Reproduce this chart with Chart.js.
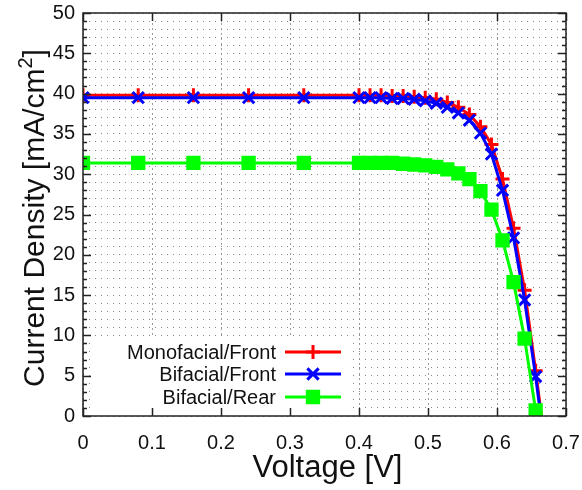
<!DOCTYPE html>
<html>
<head>
<meta charset="utf-8">
<script src="https://cdn.jsdelivr.net/npm/chart.js@4/dist/chart.umd.min.js"></script>
<style>
    html, body { margin: 0; padding: 0; background: #fff; }
</style>
</head>
<body>
<canvas id="chart-iv" width="582" height="490"></canvas>
<script>
// Voltage points [V] shared by all three curves
const voltage = [0, 0.08, 0.16, 0.24, 0.32, 0.40, 0.416, 0.432, 0.448, 0.464, 0.48, 0.496,
    0.512, 0.528, 0.544, 0.56, 0.576, 0.592, 0.608, 0.624, 0.64, 0.656, 0.672];

// Current density [mA/cm2]
const monofacialFront = [39.8, 39.8, 39.8, 39.8, 39.8, 39.8, 39.8, 39.8, 39.7, 39.7, 39.6, 39.5,
    39.3, 38.9, 38.3, 37.4, 35.9, 33.7, 29.4, 23.3, 15.6, 5.6, -5.0];
const bifacialFront = [39.5, 39.5, 39.5, 39.5, 39.5, 39.5, 39.5, 39.5, 39.4, 39.4, 39.3, 39.1,
    38.8, 38.3, 37.6, 36.7, 35.1, 32.5, 28.0, 22.1, 14.4, 4.9, -5.5];
const bifacialRear = [31.4, 31.4, 31.4, 31.4, 31.4, 31.4, 31.4, 31.4, 31.4, 31.3, 31.2, 31.1,
    30.9, 30.6, 30.1, 29.4, 27.9, 25.6, 21.8, 16.6, 9.6, 0.7];

const xTicks = [0, 0.1, 0.2, 0.3, 0.4, 0.5, 0.6, 0.7];
const yTicks = [0, 5, 10, 15, 20, 25, 30, 35, 40, 45, 50];

function toPoints(values) {
    return values.map((v, i) => ({ x: voltage[i], y: v }));
}

const seriesStyle = [
    { label: 'Monofacial/Front', color: '#ff0000', marker: 'cross', radius: 7 },
    { label: 'Bifacial/Front', color: '#0000ff', marker: 'crossRot', radius: 8 },
    { label: 'Bifacial/Rear', color: '#00ff00', marker: 'rect', radius: 8 },
];

const FONT = '"Liberation Sans", Arial, sans-serif';

// frame, inward ticks, legend and axis titles drawn by hand
const framePlugin = {
    id: 'frame',
    beforeDatasetsDraw(chart) {
        const ctx = chart.ctx;
        const area = chart.chartArea;
        ctx.save();
        ctx.fillStyle = '#fff';
        ctx.fillRect(area.left + 9, 337, 350 - area.left - 9, area.bottom - 337 - 1);
        ctx.restore();
    },
    afterDraw(chart) {
        const ctx = chart.ctx;
        const area = chart.chartArea;
        const xs = chart.scales.x;
        const ys = chart.scales.y;

        ctx.save();
        ctx.strokeStyle = '#222';
        ctx.lineWidth = 1.5;
        ctx.strokeRect(area.left, area.top, area.right - area.left, area.bottom - area.top);

        ctx.beginPath();
        xTicks.forEach(t => {
            const px = Math.round(xs.getPixelForValue(t)) + 0.5;
            ctx.moveTo(px, area.bottom);
            ctx.lineTo(px, area.bottom - 8);
            ctx.moveTo(px, area.top);
            ctx.lineTo(px, area.top + 8);
        });
        for (let v = 0; v <= 50; v++) {
            const py = Math.round(ys.getPixelForValue(v)) + 0.5;
            const len = v % 5 === 0 ? 8 : 4;
            ctx.moveTo(area.left, py);
            ctx.lineTo(area.left + len, py);
            ctx.moveTo(area.right, py);
            ctx.lineTo(area.right - len, py);
        }
        ctx.stroke();

        // legend
        const rowsY = [352, 374, 397];
        ctx.font = '20px ' + FONT;
        ctx.textAlign = 'right';
        ctx.textBaseline = 'middle';
        seriesStyle.forEach((s, i) => {
            const y = rowsY[i];
            ctx.fillStyle = '#111';
            ctx.fillText(s.label, 276, y + 1);
            ctx.strokeStyle = s.color;
            ctx.fillStyle = s.color;
            ctx.lineWidth = 3;
            ctx.beginPath();
            ctx.moveTo(285, y);
            ctx.lineTo(341, y);
            ctx.stroke();
            Chart.helpers.drawPoint(ctx, {
                pointStyle: s.marker,
                radius: s.radius,
                borderWidth: 3,
                rotation: 0,
            }, 313, y);
        });

        // axis titles
        ctx.fillStyle = '#111';
        ctx.textAlign = 'center';
        ctx.textBaseline = 'alphabetic';
        ctx.font = '31px ' + FONT;
        ctx.fillText('Voltage [V]', (area.left + area.right) / 2 + 3, 477);

        ctx.translate(44, 218);
        ctx.rotate(-Math.PI / 2);
        ctx.textAlign = 'left';
        const mainA = 'Current Density [mA/cm';
        const sup = '2';
        const mainB = ']';
        ctx.font = '30px ' + FONT;
        const wA = ctx.measureText(mainA).width;
        const wB = ctx.measureText(mainB).width;
        ctx.font = '20px ' + FONT;
        const wS = ctx.measureText(sup).width;
        let x0 = -(wA + wS + wB) / 2;
        ctx.font = '30px ' + FONT;
        ctx.fillText(mainA, x0, 0);
        ctx.font = '20px ' + FONT;
        ctx.fillText(sup, x0 + wA, -12);
        ctx.font = '30px ' + FONT;
        ctx.fillText(mainB, x0 + wA + wS, 0);
        ctx.restore();
    },
};

const canvas = document.getElementById('chart-iv');

new Chart(canvas, {
    type: 'line',
    data: {
        datasets: [monofacialFront, bifacialFront, bifacialRear].map((vals, i) => ({
            label: seriesStyle[i].label,
            data: toPoints(vals),
            borderColor: seriesStyle[i].color,
            backgroundColor: seriesStyle[i].color,
            borderWidth: 3,
            pointStyle: seriesStyle[i].marker,
            pointRadius: seriesStyle[i].radius,
            pointBorderWidth: 3,
            pointBorderColor: seriesStyle[i].color,
            pointBackgroundColor: seriesStyle[i].color,
            tension: 0,
            order: 3 - i,
        })),
    },
    options: {
        responsive: false,
        animation: false,
        layout: {
            padding: { top: 13, right: 16, left: 0, bottom: 0 },
        },
        plugins: {
            legend: { display: false },
            tooltip: { enabled: false },
        },
        scales: {
            x: {
                type: 'linear',
                min: 0,
                max: 0.7,
                afterFit(scale) {
                    scale.height = 74;
                    scale.paddingLeft = 0;
                    scale.paddingRight = 0;
                },
                afterBuildTicks(scale) { scale.ticks = xTicks.map(v => ({ value: v })); },
                border: { display: false, dash: [2, 3] },
                grid: {
                    color: '#9a9a9a',
                    lineWidth: 1,
                    drawTicks: false,
                },
                ticks: {
                    padding: 15,
                    color: '#111',
                    font: { family: FONT, size: 20 },
                    callback: v => String(Math.round(v * 10) / 10),
                },
            },
            y: {
                type: 'linear',
                min: 0,
                max: 50,
                afterFit(scale) {
                    scale.width = 83;
                    scale.paddingTop = 0;
                    scale.paddingBottom = 0;
                },
                afterBuildTicks(scale) {
                    const t = [];
                    for (let v = 0; v <= 50; v++) t.push({ value: v });
                    scale.ticks = t;
                },
                border: { display: false, dash: [1, 5] },
                grid: {
                    color: '#8a8a8a',
                    lineWidth: 1,
                    drawTicks: false,
                },
                ticks: {
                    padding: 8,
                    autoSkip: false,
                    color: '#111',
                    font: { family: FONT, size: 20 },
                    callback: v => (yTicks.includes(v) ? String(v) : ''),
                },
            },
        },
    },
    plugins: [framePlugin],
});
</script>
</body>
</html>
